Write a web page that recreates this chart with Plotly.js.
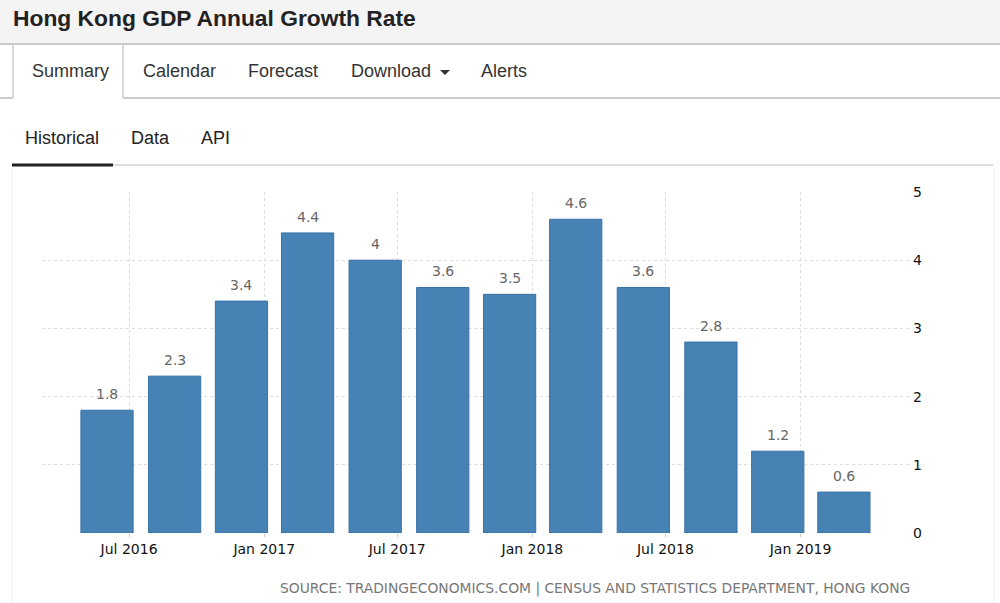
<!DOCTYPE html>
<html>
<head>
<meta charset="utf-8">
<script src="https://cdn.plot.ly/plotly-3.0.1.min.js"></script>
<style>html,body{margin:0;padding:0;background:#fff;}#chart{width:1000px;height:603px;}</style>
</head>
<body>
<div id="chart"></div>
<script>
// ---- data ----
const quarterDates = ['2016-06-01','2016-09-01','2016-12-01','2017-03-01','2017-06-01','2017-09-01',
                      '2017-12-01','2018-03-01','2018-06-01','2018-09-01','2018-12-01','2019-03-01'];
const growthRate = [1.8, 2.3, 3.4, 4.4, 4.0, 3.6, 3.5, 4.6, 3.6, 2.8, 1.2, 0.6];
const yTickValues = [0, 1, 2, 3, 4, 5];
const pageTitle = 'Hong Kong GDP Annual Growth Rate';
const mainTabs = ['Summary', 'Calendar', 'Forecast', 'Download', 'Alerts'];
const subTabs = ['Historical', 'Data', 'API'];
const sourceText = 'SOURCE: TRADINGECONOMICS.COM | CENSUS AND STATISTICS DEPARTMENT, HONG KONG';

// ---- layout geometry (pixels) ----
const W = 1000, H = 603;
const M = {l: 42, r: 90, t: 192, b: 70};
const PW = W - M.l - M.r, PH = H - M.t - M.b;
const fx = X => (X - M.l) / PW;
const fy = Y => (H - M.b - Y) / PH;

function line(x0, y0, x1, y1, color, width) {
  return {type: 'line', xref: 'paper', yref: 'paper', x0: fx(x0), y0: fy(y0), x1: fx(x1), y1: fy(y1),
          line: {color: color, width: width}, layer: 'above'};
}
function rect(x0, y0, x1, y1, fill) {
  return {type: 'rect', xref: 'paper', yref: 'paper', x0: fx(x0), y0: fy(y0), x1: fx(x1), y1: fy(y1),
          fillcolor: fill, line: {width: 0}, layer: 'below'};
}
function label(text, X, Y, size, color, opts) {
  return Object.assign({xref: 'paper', yref: 'paper', x: fx(X), y: fy(Y), text: text, showarrow: false,
          xanchor: 'left', yanchor: 'middle',
          font: {family: 'Liberation Sans, Arial, sans-serif', size: size, color: color}}, opts || {});
}

const shapes = [
  rect(0, 0, W, 43, '#f4f4f4'),
  line(0, 44, W, 44, '#c9c9c9', 2),
  line(0, 98, 13, 98, '#cccccc', 2),
  line(123, 98, W, 98, '#cccccc', 2),
  line(13, 45, 13, 98, '#cccccc', 1.5),
  line(123, 45, 123, 98, '#cccccc', 1.5),
  line(113, 165, 993, 165, '#dddddd', 2),
  line(12, 165, 113, 165, '#222222', 3),
  line(12, 168, 12, H, '#f0f0f0', 1),
  line(994, 168, 994, H, '#f0f0f0', 1),
  {type: 'path', xref: 'paper', yref: 'paper',
   path: 'M ' + fx(440) + ' ' + fy(70) + ' L ' + fx(450) + ' ' + fy(70) + ' L ' + fx(445) + ' ' + fy(75) + ' Z',
   fillcolor: '#333', line: {width: 0}, layer: 'above'}
];

const tabX = [30, 141, 246, 349, 479];
const subX = [23, 129, 199];
const annotations = [
  label('<b>' + pageTitle + '</b>', 11, 18, 22.8, '#222'),
];
mainTabs.forEach((t, i) => annotations.push(label(t, tabX[i], 71, 18, '#333')));
subTabs.forEach((t, i) => annotations.push(label(t, subX[i], 138, 18, '#222')));
annotations.push({xref: 'paper', yref: 'paper', x: fx(912), y: fy(588), xanchor: 'right', yanchor: 'middle',
  text: sourceText, showarrow: false, font: {family: 'DejaVu Sans, sans-serif', size: 13.85, color: '#777'}});
// value labels above bars
quarterDates.forEach((d, i) => annotations.push({
  x: d, y: growthRate[i], xref: 'x', yref: 'y', text: String(growthRate[i]), showarrow: false,
  yanchor: 'bottom', yshift: 6, font: {family: 'DejaVu Sans, sans-serif', size: 14, color: '#666'}
}));

const trace = {
  type: 'bar', x: quarterDates, y: growthRate,
  marker: {color: '#4682b4', line: {color: '#3a72a6', width: 1}},
  hoverinfo: 'x+y'
};

const layout = {
  width: W, height: H,
  margin: M,
  paper_bgcolor: '#ffffff', plot_bgcolor: 'rgba(0,0,0,0)',
  showlegend: false,
  bargap: 0.21,
  font: {family: 'DejaVu Sans, sans-serif', size: 14, color: '#111'},
  xaxis: {
    type: 'date', range: ['2016-03-04 12:00', '2019-05-30'],
    tick0: '2016-01-01', dtick: 'M6', tickformat: '%b %Y',
    showgrid: true, gridcolor: '#dcdcdc', griddash: 'dot', gridwidth: 1,
    ticks: 'outside', ticklen: 3, tickcolor: '#cccccc',
    showline: false, zeroline: false, fixedrange: true,
    tickfont: {family: 'DejaVu Sans, sans-serif', size: 14, color: '#111'}
  },
  yaxis: {
    side: 'right', range: [0, 5], tickvals: yTickValues,
    showgrid: true, gridcolor: '#dcdcdc', griddash: 'dot', gridwidth: 1,
    zeroline: false, showline: false, ticks: '', fixedrange: true, ticklabelstandoff: 2,
    tickfont: {family: 'DejaVu Sans, sans-serif', size: 14, color: '#111'}
  },
  shapes: shapes,
  annotations: annotations
};

Plotly.newPlot('chart', [trace], layout, {displayModeBar: false, staticPlot: true});
</script>
</body>
</html>
